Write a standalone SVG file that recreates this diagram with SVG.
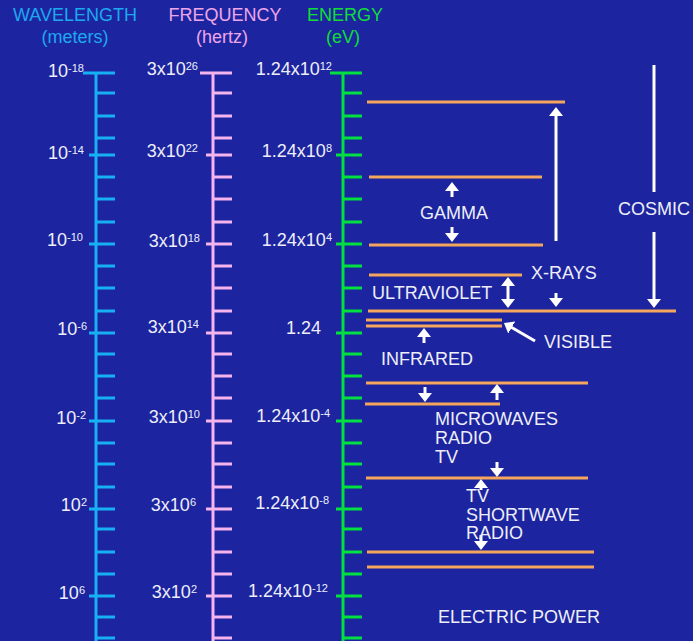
<svg xmlns="http://www.w3.org/2000/svg" xmlns:xlink="http://www.w3.org/1999/xlink" width="693" height="641" viewBox="0 0 693 641">
<style>
text{font-family:"Liberation Sans",Arial,sans-serif}
.hd{font-size:18px;text-anchor:middle}
.lb{font-size:18px;fill:#eeeefa;text-anchor:end}
.sp{font-size:11px}
.nm{font-size:18px;fill:#eeeefa}
.scale{fill:none;stroke-width:3}
.band{stroke:#f4a65c;stroke-width:3;fill:none}
.arr{stroke:#ffffff;stroke-width:3;fill:none}
.ah{marker-end:url(#head)}
.ah2{marker-start:url(#head);marker-end:url(#head)}
</style>
<defs>
<marker id="head" viewBox="0 0 9 14" refX="4" refY="7" markerWidth="9" markerHeight="14" markerUnits="userSpaceOnUse" orient="auto-start-reverse">
<path d="M0,0 L9,7 L0,14 z" fill="#ffffff"/>
</marker>
<path id="ticks" stroke="currentColor" d="M0,73V641 M-13,73H19 M0,93H19 M0,116H19 M0,138H19 M-7,155H19 M0,177H19 M0,199H19 M0,222H19 M-7,244H19 M0,266H19 M0,288H19 M0,311H19 M-7,333H19 M0,354H19 M0,376H19 M0,398H19 M-7,421H19 M0,443H19 M0,464H19 M0,487H19 M-7,509H19 M0,529H19 M0,552H19 M0,574H19 M-7,596H19 M0,617H19 M0,638H19"/>
</defs>
<rect width="693" height="641" fill="#1c259f"/>

<g id="wavelength-scale">
<text class="hd" x="75" y="21" fill="#1ea8f0">WAVELENGTH</text>
<text class="hd" x="75" y="43" fill="#1ea8f0">(meters)</text>
<use xlink:href="#ticks" href="#ticks" class="scale" x="96" color="#18b0f5"/>
<text class="lb" x="84" y="77">10<tspan class="sp" dy="-5">-18</tspan></text>
<text class="lb" x="84" y="159">10<tspan class="sp" dy="-5">-14</tspan></text>
<text class="lb" x="83" y="246">10<tspan class="sp" dy="-5">-10</tspan></text>
<text class="lb" x="87" y="335">10<tspan class="sp" dy="-5">-6</tspan></text>
<text class="lb" x="86" y="424">10<tspan class="sp" dy="-5">-2</tspan></text>
<text class="lb" x="87" y="511">10<tspan class="sp" dy="-5">2</tspan></text>
<text class="lb" x="85" y="599">10<tspan class="sp" dy="-5">6</tspan></text>
</g>

<g id="frequency-scale">
<text class="hd" x="225" y="21" fill="#eea6ea">FREQUENCY</text>
<text class="hd" x="222" y="43" fill="#eea6ea">(hertz)</text>
<use xlink:href="#ticks" href="#ticks" class="scale" x="213" color="#f5b4ee"/>
<text class="lb" x="198" y="75">3x10<tspan class="sp" dy="-5">26</tspan></text>
<text class="lb" x="198" y="157">3x10<tspan class="sp" dy="-5">22</tspan></text>
<text class="lb" x="200" y="247">3x10<tspan class="sp" dy="-5">18</tspan></text>
<text class="lb" x="199" y="333">3x10<tspan class="sp" dy="-5">14</tspan></text>
<text class="lb" x="200" y="423">3x10<tspan class="sp" dy="-5">10</tspan></text>
<text class="lb" x="196" y="511">3x10<tspan class="sp" dy="-5">6</tspan></text>
<text class="lb" x="197" y="598">3x10<tspan class="sp" dy="-5">2</tspan></text>
</g>

<g id="energy-scale">
<text class="hd" x="345" y="21" fill="#10dd3a">ENERGY</text>
<text class="hd" x="343" y="43" fill="#10dd3a">(eV)</text>
<use xlink:href="#ticks" href="#ticks" class="scale" x="343" color="#00e040"/>
<text class="lb" x="332" y="75">1.24x10<tspan class="sp" dy="-5">12</tspan></text>
<text class="lb" x="332" y="157">1.24x10<tspan class="sp" dy="-5">8</tspan></text>
<text class="lb" x="332" y="246">1.24x10<tspan class="sp" dy="-5">4</tspan></text>
<text class="lb" x="321" y="334">1.24</text>
<text class="lb" x="330" y="422">1.24x10<tspan class="sp" dy="-5">-4</tspan></text>
<text class="lb" x="329" y="509">1.24x10<tspan class="sp" dy="-5">-8</tspan></text>
<text class="lb" x="328" y="597">1.24x10<tspan class="sp" dy="-5">-12</tspan></text>
</g>

<g id="bands">
<path class="band" d="M367,102H565 M369,177H542 M369,245H543 M369,275H522 M368,311H676 M366,320H502 M366,326H502 M366,383H588 M365,404H500 M366,478H588 M367,552H594 M367,567H594"/>
</g>

<g id="connectors">
<path class="arr ah" d="M556,241V112"/>
<path class="arr ah" d="M452,197V187"/>
<path class="arr ah" d="M452,227V237"/>
<path class="arr" d="M654,65V192"/>
<path class="arr ah" d="M654,232V303"/>
<path class="arr ah2" d="M508,282V303"/>
<path class="arr ah" d="M556,293V302"/>
<path class="arr ah" d="M535,341L508.3,325.5"/>
<path class="arr ah" d="M424,343V333"/>
<path class="arr ah" d="M425,387V397"/>
<path class="arr ah" d="M497,400V389"/>
<path class="arr ah" d="M497,462V472"/>
<path class="arr ah" d="M481,490V484"/>
<path class="arr ah" d="M481,535V545"/>
</g>

<g id="gamma"><text class="nm" x="420" y="219">GAMMA</text></g>
<g id="cosmic"><text class="nm" x="618" y="215">COSMIC</text></g>
<g id="x-rays"><text class="nm" x="531" y="279">X-RAYS</text></g>
<g id="ultraviolet"><text class="nm" x="372" y="299">ULTRAVIOLET</text></g>
<g id="visible"><text class="nm" x="544" y="348">VISIBLE</text></g>
<g id="infrared"><text class="nm" x="381" y="365">INFRARED</text></g>
<g id="microwaves"><text class="nm" x="435" y="425">MICROWAVES<tspan x="435" dy="19">RADIO</tspan><tspan x="435" dy="19">TV</tspan></text></g>
<g id="shortwave"><text class="nm" x="466" y="502">TV<tspan x="466" dy="19">SHORTWAVE</tspan><tspan x="466" dy="18">RADIO</tspan></text></g>
<g id="electric-power"><text class="nm" x="438" y="623">ELECTRIC POWER</text></g>
</svg>
